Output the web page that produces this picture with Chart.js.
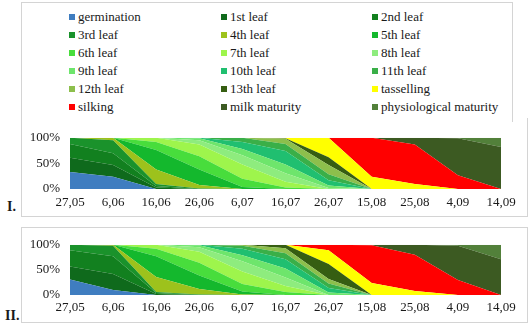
<!DOCTYPE html>
<html>
<head>
<meta charset="utf-8">
<script src="https://cdn.jsdelivr.net/npm/chart.js@4.4.0/dist/chart.umd.min.js"></script>
<style>
  body { margin: 0; background: #fff; font-family: "Liberation Serif", "Times New Roman", serif; color: #1a1a1a; }
  #page { position: relative; width: 529px; height: 324px; overflow: hidden; }
  .box { position: absolute; border: 1px solid #d4d4d4; box-sizing: border-box; }
  .legend-item { position: absolute; font-size: 13px; line-height: 16px; white-space: nowrap; }
  .legend-item i { position: absolute; left: -9.5px; top: 5px; width: 6px; height: 6px; }
  .roman { position: absolute; font-weight: bold; font-size: 14px; }
  canvas { position: absolute; }
</style>
</head>
<body>
<div id="page">
  <div class="box" style="left:21px; top:2px; width:492px; height:120px; border-bottom:none;"></div>
  <div class="box" style="left:21px; top:118px; width:507px; height:99px; border-top:none;"></div>
  <div class="box" style="left:21px; top:227px; width:507px; height:96px;"></div>
  <div id="legend"></div>
  <canvas id="plotI" width="507" height="96" style="left:21px; top:120px;"></canvas>
  <canvas id="plotII" width="507" height="96" style="left:21px; top:227px;"></canvas>
  <div class="roman" style="left:7px; top:199px;">I.</div>
  <div class="roman" style="left:5px; top:308px;">II.</div>
</div>
<script>
// observation dates
const dates = ['27,05', '6,06', '16,06', '26,06', '6,07', '16,07', '26,07', '15,08', '25,08', '4,09', '14,09'];

// development stages, bottom of the stack first
const stages = ['germination', '1st leaf', '2nd leaf', '3rd leaf', '4th leaf', '5th leaf',
  '6th leaf', '7th leaf', '8th leaf', '9th leaf', '10th leaf', '11th leaf',
  '12th leaf', '13th leaf', 'tasselling', 'silking', 'milk maturity', 'physiological maturity'];

const colors = ['#3f7dc0', '#0f6a1c', '#12801f', '#1a922b', '#9dc21c', '#14b82d',
  '#48dd3c', '#9ef54c', '#8eec7e', '#6ee56c', '#20bf70', '#3aaf48',
  '#8dbf4c', '#365e12', '#ffff00', '#ff0000', '#3c5a22', '#52803a'];

// share of plants in each stage (%), one row per stage, one column per date
const plotI = [
  [33, 24, 0, 0, 0, 0, 0, 0, 0, 0, 0],   // germination
  [28, 23, 3, 0, 0, 0, 0, 0, 0, 0, 0],   // 1st leaf
  [27, 23, 3, 0, 0, 0, 0, 0, 0, 0, 0],   // 2nd leaf
  [12, 25, 4, 1, 0, 0, 0, 0, 0, 0, 0],   // 3rd leaf
  [0, 5, 28, 7, 0, 0, 0, 0, 0, 0, 0],    // 4th leaf
  [0, 0, 38, 30, 4, 0, 0, 0, 0, 0, 0],   // 5th leaf
  [0, 0, 16, 26, 16, 3, 0, 0, 0, 0, 0],  // 6th leaf
  [0, 0, 8, 23, 28, 11, 0, 0, 0, 0, 0],  // 7th leaf
  [0, 0, 0, 8, 18, 17, 2, 0, 0, 0, 0],   // 8th leaf
  [0, 0, 0, 4, 12, 17, 5, 0, 0, 0, 0],   // 9th leaf
  [0, 0, 0, 1, 14, 26, 10, 0, 0, 0, 0],  // 10th leaf
  [0, 0, 0, 0, 8, 14, 12, 0, 0, 0, 0],   // 11th leaf
  [0, 0, 0, 0, 0, 10, 18, 0, 0, 0, 0],   // 12th leaf
  [0, 0, 0, 0, 0, 1, 15, 0, 0, 0, 0],    // 13th leaf
  [0, 0, 0, 0, 0, 1, 38, 24, 10, 0, 0],  // tasselling
  [0, 0, 0, 0, 0, 0, 0, 76, 77, 27, 0],  // silking
  [0, 0, 0, 0, 0, 0, 0, 0, 13, 72, 82],  // milk maturity
  [0, 0, 0, 0, 0, 0, 0, 0, 0, 1, 18]     // physiological maturity
];

const plotII = [
  [31, 10, 0, 0, 0, 0, 0, 0, 0, 0, 0],   // germination
  [26, 32, 2, 0, 0, 0, 0, 0, 0, 0, 0],   // 1st leaf
  [32, 35, 2, 0, 0, 0, 0, 0, 0, 0, 0],   // 2nd leaf
  [11, 21, 2, 1, 0, 0, 0, 0, 0, 0, 0],   // 3rd leaf
  [0, 2, 30, 11, 1, 0, 0, 0, 0, 0, 0],   // 4th leaf
  [0, 0, 41, 27, 6, 0, 0, 0, 0, 0, 0],   // 5th leaf
  [0, 0, 15, 25, 15, 6, 0, 0, 0, 0, 0],  // 6th leaf
  [0, 0, 8, 22, 25, 12, 0, 0, 0, 0, 0],  // 7th leaf
  [0, 0, 0, 9, 20, 17, 0, 0, 0, 0, 0],   // 8th leaf
  [0, 0, 0, 4, 12, 18, 5, 0, 0, 0, 0],   // 9th leaf
  [0, 0, 0, 1, 13, 18, 9, 0, 0, 0, 0],   // 10th leaf
  [0, 0, 0, 0, 6, 12, 9, 0, 0, 0, 0],    // 11th leaf
  [0, 0, 0, 0, 2, 10, 9, 0, 0, 0, 0],    // 12th leaf
  [0, 0, 0, 0, 0, 7, 30, 0, 0, 0, 0],    // 13th leaf
  [0, 0, 0, 0, 0, 0, 27, 24, 8, 0, 0],   // tasselling
  [0, 0, 0, 0, 0, 0, 11, 75, 72, 30, 0], // silking
  [0, 0, 0, 0, 0, 0, 0, 1, 20, 68, 71],  // milk maturity
  [0, 0, 0, 0, 0, 0, 0, 0, 0, 2, 29]     // physiological maturity
];

// legend: three columns, six rows
const legendCols = [78, 230, 381];
const legend = document.getElementById('legend');
stages.forEach((name, i) => {
  const el = document.createElement('div');
  el.className = 'legend-item';
  el.style.left = legendCols[i % 3] + 'px';
  el.style.top = (9 + Math.floor(i / 3) * 17.9) + 'px';
  el.innerHTML = '<i style="background:' + colors[i] + '"></i>';
  el.appendChild(document.createTextNode(name));
  legend.appendChild(el);
});

const tickFont = { family: "'Liberation Serif', 'Times New Roman', serif", size: 13 };

function makePlot(id, rows, padTop, xHeight, xPad) {
  new Chart(document.getElementById(id), {
    type: 'line',
    data: {
      labels: dates,
      datasets: stages.map((name, i) => ({
        label: name,
        data: rows[i],
        backgroundColor: colors[i],
        borderColor: colors[i],
        borderWidth: 0,
        pointRadius: 0,
        tension: 0,
        fill: i === 0 ? 'origin' : '-1'
      }))
    },
    options: {
      responsive: false,
      animation: false,
      layout: { padding: { top: padTop, right: 27, left: 0, bottom: 0 } },
      plugins: { legend: { display: false }, tooltip: { enabled: false } },
      scales: {
        x: {
          grid: { display: false, drawTicks: false },
          border: { display: false },
          ticks: { font: tickFont, color: '#1a1a1a', padding: xPad, maxRotation: 0, autoSkip: false },
          afterFit: s => { s.height = xHeight; }
        },
        y: {
          stacked: true,
          min: 0,
          max: 100,
          grid: { display: false, drawTicks: false },
          border: { display: false },
          ticks: { font: tickFont, color: '#1a1a1a', stepSize: 50, padding: 10, callback: v => v + '%' },
          afterFit: s => { s.width = 49; }
        }
      }
    }
  });
}

makePlot('plotI', plotI, 11, 27, 6);
makePlot('plotII', plotII, 12, 28, 5);
</script>
</body>
</html>
